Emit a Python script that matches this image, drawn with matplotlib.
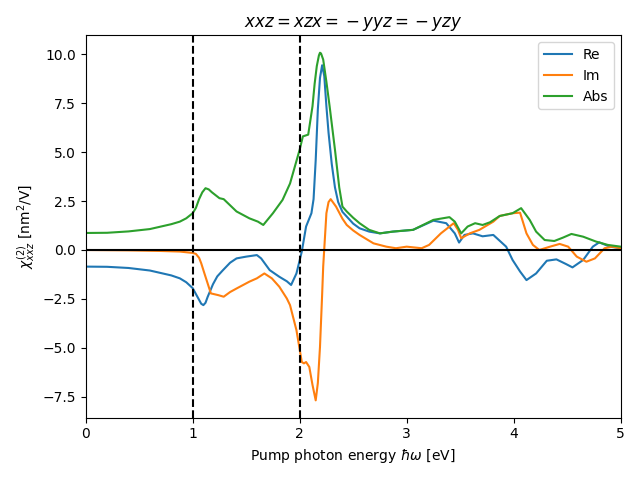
import matplotlib
matplotlib.use("Agg")
import matplotlib.pyplot as plt
import numpy as np

# --- data (energy in eV, chi2 in nm^2/V) ---
e_re = [0, 0.2, 0.4, 0.6, 0.8, 0.88, 0.94, 1.0, 1.05, 1.08, 1.10, 1.12, 1.14, 1.19, 1.23, 1.28,
        1.35, 1.41, 1.50, 1.60, 1.64, 1.72, 1.81, 1.88, 1.92, 1.97, 2.02, 2.06, 2.11, 2.13,
        2.15, 2.17, 2.19, 2.21, 2.23, 2.25, 2.27, 2.30, 2.33, 2.36, 2.40, 2.44, 2.50, 2.56,
        2.65, 2.75, 2.87, 3.06, 3.25, 3.37, 3.45, 3.49, 3.54, 3.62, 3.71, 3.81, 3.93, 3.99,
        4.06, 4.12, 4.21, 4.31, 4.40, 4.49, 4.55, 4.65, 4.74, 4.80, 4.90, 5.0]
re = [-0.85, -0.86, -0.92, -1.05, -1.3, -1.45, -1.65, -1.95, -2.45, -2.75, -2.82, -2.7, -2.4,
      -1.75, -1.35, -1.05, -0.65, -0.43, -0.34, -0.26, -0.43, -1.03, -1.37, -1.6, -1.79,
      -1.2, -0.08, 1.2, 1.88, 2.6, 4.6, 7.2, 8.8, 9.45, 8.9, 7.35, 6.0, 4.4, 3.2, 2.45, 1.95,
      1.71, 1.35, 1.11, 0.94, 0.85, 0.94, 1.03, 1.5, 1.37, 0.85, 0.38, 0.77, 0.85, 0.7, 0.77,
      0.17, -0.51, -1.1, -1.54, -1.2, -0.55, -0.48, -0.72, -0.89, -0.51, 0.17, 0.39, 0.17,
      0.09]

e_im = [0, 0.4, 0.7, 0.88, 1.0, 1.03, 1.06, 1.08, 1.11, 1.13, 1.17, 1.24, 1.29, 1.35, 1.41,
        1.53, 1.60, 1.67, 1.74, 1.81, 1.88, 1.91, 1.97, 2.02, 2.04, 2.06, 2.09, 2.12, 2.15,
        2.17, 2.19, 2.21, 2.22, 2.25, 2.27, 2.29, 2.34, 2.40, 2.44, 2.50, 2.56, 2.69, 2.81,
        2.90, 3.0, 3.14, 3.21, 3.32, 3.44, 3.48, 3.51, 3.59, 3.68, 3.81, 3.87, 3.99, 4.06,
        4.12, 4.18, 4.24, 4.34, 4.43, 4.51, 4.59, 4.68, 4.76, 4.85, 4.92, 5.0]
im = [0.0, -0.02, -0.05, -0.08, -0.15, -0.2, -0.4, -0.68, -1.2, -1.54, -2.22, -2.31, -2.39,
      -2.15, -1.97, -1.62, -1.45, -1.2, -1.45, -1.88, -2.48, -2.82, -4.1, -5.73, -5.8, -5.73,
      -5.98, -6.9, -7.69, -6.8, -4.96, -2.3, -0.85, 1.88, 2.45, 2.6, 2.22, 1.6, 1.28, 1.0,
      0.77, 0.34, 0.17, 0.09, 0.17, 0.09, 0.26, 0.85, 1.37, 1.03, 0.6, 0.85, 1.03, 1.45, 1.74,
      1.88, 1.91, 0.85, 0.26, 0.0, 0.17, 0.31, 0.17, -0.34, -0.6, -0.43, 0.09, 0.17, 0.09]

e_abs = [0, 0.2, 0.4, 0.6, 0.8, 0.88, 0.94, 1.0, 1.03, 1.06, 1.09, 1.12, 1.15, 1.18, 1.25,
         1.29, 1.41, 1.53, 1.61, 1.66, 1.75, 1.84, 1.91, 2.0, 2.03, 2.08, 2.12, 2.14, 2.16,
         2.18, 2.19, 2.20, 2.22, 2.25, 2.28, 2.33, 2.37, 2.40, 2.44, 2.50, 2.56, 2.65, 2.75,
         2.87, 3.06, 3.25, 3.40, 3.45, 3.51, 3.57, 3.64, 3.71, 3.78, 3.87, 3.99, 4.07, 4.15,
         4.21, 4.29, 4.38, 4.46, 4.54, 4.65, 4.77, 4.88, 5.0]
ab = [0.87, 0.88, 0.95, 1.07, 1.32, 1.45, 1.62, 1.88, 2.15, 2.6, 2.95, 3.16, 3.1, 2.95, 2.65,
      2.6, 1.97, 1.62, 1.45, 1.28, 1.88, 2.56, 3.4, 5.13, 5.81, 5.9, 7.35, 8.5, 9.4, 9.95,
      10.09, 10.05, 9.74, 8.6, 7.35, 5.13, 3.2, 2.22, 1.97, 1.65, 1.37, 1.03, 0.85, 0.94, 1.03,
      1.54, 1.68, 1.45, 0.85, 1.2, 1.37, 1.28, 1.42, 1.74, 1.88, 2.14, 1.54, 0.94, 0.51, 0.46,
      0.63, 0.82, 0.68, 0.43, 0.26, 0.17]

fig, ax = plt.subplots(figsize=(6.4, 4.8), dpi=100)
ax.plot(e_re, re, label='Re')
ax.plot(e_im, im, label='Im')
ax.plot(e_abs, ab, label='Abs')
ax.axhline(0, color='k')
ax.axvline(1.0, color='k', ls='--')
ax.axvline(2.0, color='k', ls='--')
ax.set_xlim(0, 5)
ax.set_xlabel(r'Pump photon energy $\hbar\omega$ [eV]')
ax.set_ylabel(r'$\chi^{(2)}_{xxz}$ [nm$^2$/V]')
ax.set_title(r'$xxz = xzx = {} - yyz = {} - yzy$')
ax.legend(loc='upper right')
fig.tight_layout()
fig.savefig('out.png')
